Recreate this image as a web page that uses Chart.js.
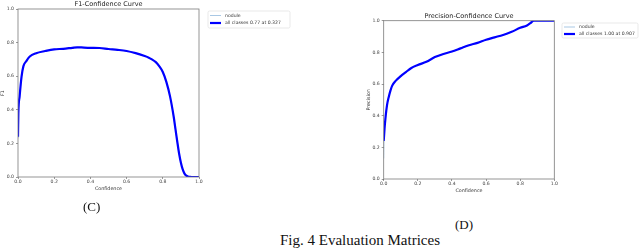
<!DOCTYPE html>
<html>
<head>
<meta charset="utf-8">
<script src="https://cdn.jsdelivr.net/npm/chart.js@4.4.1/dist/chart.umd.min.js"></script>
<style>
  html, body { margin:0; padding:0; background:#fff; }
  body { width:640px; height:249px; position:relative; overflow:hidden; }
  canvas { position:absolute; }
  .cap { position:absolute; font-family:"Liberation Serif","Times New Roman",serif; color:#111; line-height:1; white-space:nowrap; }
</style>
</head>
<body>
<canvas id="c1" width="300" height="200" style="left:0;top:0;width:300px;height:200px"></canvas>
<canvas id="c2" width="310" height="200" style="left:330px;top:0;width:310px;height:200px"></canvas>
<div class="cap" style="left:83px;top:200px;font-size:13px">(C)</div>
<div class="cap" style="left:455px;top:218px;font-size:13px">(D)</div>
<div class="cap" style="left:280px;top:233px;font-size:15px">Fig. 4 Evaluation Matrices</div>
<script>
// ---- Data ----
const f1Conf = [0,0.002,0.009,0.02,0.03,0.046,0.065,0.1,0.15,0.2,0.25,0.3,0.327,0.35,0.4,0.45,0.5,0.55,0.6,0.65,0.7,0.72,0.74,0.76,0.78,0.8,0.82,0.84,0.86,0.87,0.88,0.89,0.9,0.91,0.92,0.93,0.94,0.95,0.96,0.98,1.0];
const f1All  = [0.24,0.38,0.48,0.60,0.66,0.69,0.717,0.737,0.75,0.76,0.763,0.769,0.772,0.771,0.769,0.768,0.762,0.757,0.75,0.737,0.72,0.712,0.70,0.685,0.66,0.625,0.565,0.48,0.36,0.285,0.21,0.14,0.085,0.045,0.02,0.008,0.003,0.001,0.0,0.0,0.0];
const f1Nodule = [0.23,0.38,0.48,0.60,0.66,0.69,0.717,0.737,0.75,0.76,0.763,0.769,0.772,0.771,0.769,0.768,0.762,0.757,0.75,0.737,0.72,0.712,0.70,0.685,0.66,0.625,0.565,0.48,0.36,0.285,0.21,0.14,0.085,0.045,0.02,0.008,0.003,0.001,0.0,0.0,0.0];

const pConf = [0,0.002,0.005,0.01,0.015,0.02,0.03,0.04,0.05,0.07,0.1,0.13,0.16,0.2,0.25,0.3,0.35,0.4,0.45,0.5,0.55,0.6,0.65,0.7,0.75,0.8,0.84,0.86,0.88,0.907,0.95,1.0];
const pAll   = [0.24,0.27,0.32,0.38,0.43,0.47,0.52,0.56,0.59,0.62,0.65,0.675,0.70,0.72,0.74,0.77,0.79,0.805,0.825,0.845,0.86,0.88,0.895,0.91,0.93,0.955,0.97,0.985,1.0,1.0,1.0,1.0];
const pNodule= [0.13,0.27,0.32,0.38,0.43,0.47,0.52,0.56,0.59,0.62,0.65,0.675,0.70,0.72,0.74,0.77,0.79,0.805,0.825,0.845,0.86,0.88,0.895,0.91,0.93,0.955,0.97,0.985,1.0,1.0,1.0,1.0];

const yTicks = [0,0.2,0.4,0.6,0.8,1.0];
const xTicks = [0,0.2,0.4,0.6,0.8,1.0];

const nodColor = '#a9c8e4';
const allColor = '#0000ff';
const FONT = 'DejaVu Sans';

function pts(xs, ys){ return xs.map((x,i)=>({x:x,y:ys[i]})); }

const framePlugin = {
  id:'frame',
  afterDraw(chart, args, opts){
    const ctx = chart.ctx, a = chart.chartArea;
    ctx.save();
    ctx.strokeStyle = '#7a7a7a'; ctx.lineWidth = 0.8;
    ctx.strokeRect(a.left, a.top, a.right-a.left, a.bottom-a.top);
    // title
    ctx.fillStyle = '#222';
    ctx.font = '6.5px "' + FONT + '"';
    ctx.textAlign = 'center'; ctx.textBaseline = 'middle';
    ctx.fillText(opts.title, (a.left+a.right)/2, opts.titleY);
    // legend
    const L = opts.legend;
    ctx.fillStyle = 'rgba(255,255,255,0.85)';
    ctx.strokeStyle = '#e0e0e0'; ctx.lineWidth = 0.7;
    const r = 1.5;
    ctx.beginPath();
    ctx.moveTo(L.x+r, L.y); ctx.lineTo(L.x+L.w-r, L.y); ctx.quadraticCurveTo(L.x+L.w, L.y, L.x+L.w, L.y+r);
    ctx.lineTo(L.x+L.w, L.y+L.h-r); ctx.quadraticCurveTo(L.x+L.w, L.y+L.h, L.x+L.w-r, L.y+L.h);
    ctx.lineTo(L.x+r, L.y+L.h); ctx.quadraticCurveTo(L.x, L.y+L.h, L.x, L.y+L.h-r);
    ctx.lineTo(L.x, L.y+r); ctx.quadraticCurveTo(L.x, L.y, L.x+r, L.y);
    ctx.closePath(); ctx.fill(); ctx.stroke();
    ctx.font = '4.6px "' + FONT + '"';
    ctx.textAlign = 'left';
    chart.data.datasets.forEach((ds, i) => {
      const yy = L.y + L.first + i*L.step;
      ctx.strokeStyle = ds.borderColor; ctx.lineWidth = ds.borderWidth;
      ctx.beginPath(); ctx.moveTo(L.x+2, yy); ctx.lineTo(L.x+13, yy); ctx.stroke();
      ctx.fillStyle = '#333';
      ctx.fillText(ds.label, L.x+17, yy);
    });
    ctx.restore();
  }
};

function makeChart(id, conf, allVals, nodVals, allLabel, yTitle, title, pad, yWidth, titleY, legend){
  return new Chart(document.getElementById(id), {
    type:'line',
    data:{ datasets:[
      { label:'nodule', data:pts(conf, nodVals), borderColor:nodColor, borderWidth:1, pointRadius:0, cubicInterpolationMode:'monotone', order:2 },
      { label:allLabel, data:pts(conf, allVals), borderColor:allColor, borderWidth:2.2, pointRadius:0, cubicInterpolationMode:'monotone', order:1 }
    ]},
    options:{
      responsive:false, animation:false, devicePixelRatio:1,
      layout:{ padding:pad },
      plugins:{ legend:{display:false}, tooltip:{enabled:false}, title:{display:false},
        frame:{ title:title, titleY:titleY, legend:legend } },
      scales:{
        x:{ type:'linear', min:0, max:1,
            afterBuildTicks(s){ s.ticks = xTicks.map(v=>({value:v})); },
            afterFit(s){ s.height = 15; },
            ticks:{ font:{family:FONT, size:4.6}, color:'#444', padding:0, maxRotation:0, callback:v=>v.toFixed(1) },
            grid:{ drawOnChartArea:false, drawTicks:true, tickLength:2, color:'#555', lineWidth:0.6 },
            border:{ display:false },
            title:{ display:true, text:'Confidence', font:{family:FONT, size:4.8}, color:'#333', padding:0 } },
        y:{ type:'linear', min:0, max:1,
            afterBuildTicks(s){ s.ticks = yTicks.map(v=>({value:v})); },
            afterFit(s){ s.width = yWidth; },
            ticks:{ font:{family:FONT, size:4.6}, color:'#444', padding:2, callback:v=>v.toFixed(1) },
            grid:{ drawOnChartArea:false, drawTicks:true, tickLength:2, color:'#555', lineWidth:0.6 },
            border:{ display:false },
            title:{ display:true, text:yTitle, font:{family:FONT, size:4.8}, color:'#333', padding:0 } }
      }
    },
    plugins:[framePlugin]
  });
}

makeChart('c1', f1Conf, f1All, f1Nodule, 'all classes 0.77 at 0.327', 'F1', 'F1-Confidence Curve',
  {left:0, top:9, right:101, bottom:8}, 18, 4,
  {x:208, y:11, w:82, h:17, first:4.5, step:7.5});
makeChart('c2', pConf, pAll, pNodule, 'all classes 1.00 at 0.907', 'Precision', 'Precision-Confidence Curve',
  {left:36, top:20.7, right:85.7, bottom:6}, 17.7, 16,
  {x:232, y:23, w:76, h:15, first:4, step:7});
</script>
</body>
</html>
